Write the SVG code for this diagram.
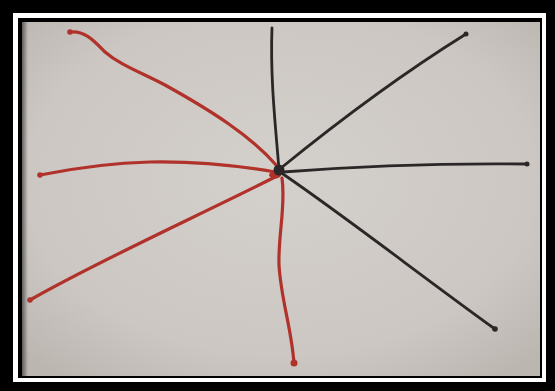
<svg xmlns="http://www.w3.org/2000/svg" width="555" height="391" viewBox="0 0 555 391">
<defs>
<radialGradient id="bg" cx="0.5" cy="0.45" r="0.7">
<stop offset="0" stop-color="#d4d0cc"/>
<stop offset="0.7" stop-color="#ccc7c3"/>
<stop offset="1" stop-color="#bcb6b1"/>
</radialGradient>
<linearGradient id="shL" x1="0" y1="0" x2="1" y2="0">
<stop offset="0" stop-color="#000" stop-opacity="0.5"/>
<stop offset="1" stop-color="#000" stop-opacity="0"/>
</linearGradient>
<style>
.k{fill:none;stroke:#2b2727;stroke-width:2.8;stroke-linecap:round}
.r{fill:none;stroke:#b0322a;stroke-width:3.2;stroke-linecap:round}
.kd{fill:#2b2727}
.rd{fill:#b0322a}
</style>
</defs>
<rect width="555" height="391" fill="#000"/>
<rect x="13" y="13" width="533" height="369" fill="#fff"/>
<rect x="18" y="18" width="524" height="360" fill="#000"/>
<rect x="22" y="22" width="518" height="354" fill="url(#bg)"/>
<rect x="22" y="22" width="6" height="354" fill="url(#shL)"/>
<g id="black-lines">
<path class="k" d="M279,170 C276,130 270,80 272,28"/>
<path class="k" d="M281,168 C340,120 400,75 466,34"/>
<path class="k" d="M283,172 C360,166 440,163 527,164"/>
<path class="k" d="M283,174 C350,220 420,275 495,329"/>
<circle class="kd" cx="466" cy="34" r="2.5"/>
<circle class="kd" cx="527" cy="164" r="2.5"/>
<circle class="kd" cx="495" cy="329" r="2.8"/>
</g>
<g id="red-lines">
<path class="r" d="M70,32 C85,30 95,42 105,52 C120,65 140,72 165,85 C210,110 250,135 277,166"/>
<path class="r" d="M40,175 C80,167 110,163 150,162 C200,161 240,166 275,172"/>
<path class="r" d="M30,300 C100,260 200,215 277,176"/>
<path class="r" d="M282,178 C286,205 278,235 279,265 C281,300 292,330 294,364"/>
<circle class="rd" cx="70" cy="32" r="2.8"/>
<circle class="rd" cx="40" cy="175" r="2.8"/>
<circle class="rd" cx="30" cy="300" r="2.8"/>
<circle class="rd" cx="294" cy="363" r="3.5"/>
<ellipse class="rd" cx="275" cy="175" rx="6" ry="3.5"/>
</g>
<circle id="center" class="kd" cx="279" cy="170" r="5.5"/>
</svg>
